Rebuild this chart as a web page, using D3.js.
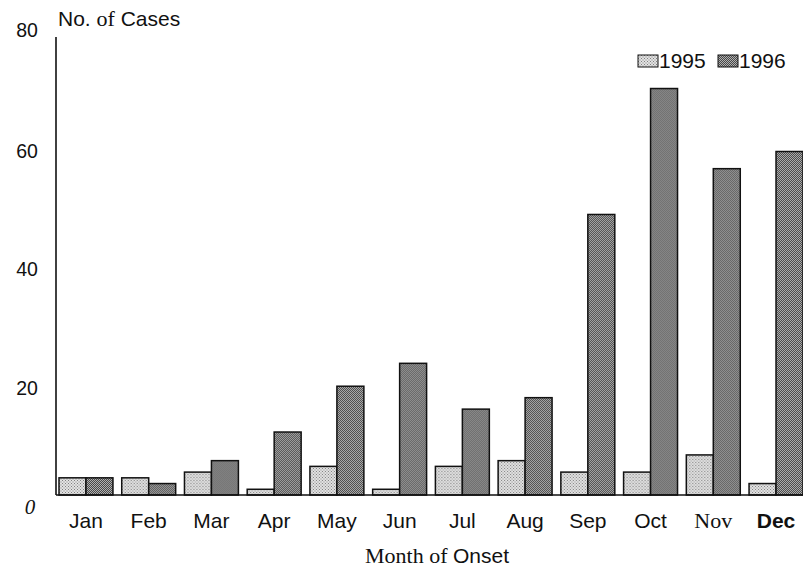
<!DOCTYPE html>
<html>
<head>
<meta charset="utf-8">
<script src="https://cdn.jsdelivr.net/npm/d3@7"></script>
<style>
  body { margin: 0; background: #fff; }
  text { font-family: "Liberation Sans", Arial, sans-serif; fill: #111; }
  .serif { font-family: "Liberation Serif", "Times New Roman", serif; }
</style>
</head>
<body>
<div id="chart"></div>
<script>
const width = 803;
const height = 570;

// data
const months = ["Jan", "Feb", "Mar", "Apr", "May", "Jun", "Jul", "Aug", "Sep", "Oct", "Nov", "Dec"];
const years = ["1995", "1996"];
const cases1995 = [3, 3, 4, 1, 5, 1, 5, 6, 4, 4, 7, 2];
const cases1996 = [3, 2, 6, 11, 19, 23, 15, 17, 49, 71, 57, 60];
const yTicks = [0, 20, 40, 60, 80];

const svg = d3.select("#chart").append("svg")
    .attr("width", width)
    .attr("height", height);

// stipple fills, like the scanned halftone
const defs = svg.append("defs");
function stipple(id, base, dot, size) {
  const p = defs.append("pattern")
      .attr("id", id)
      .attr("width", size).attr("height", size)
      .attr("patternUnits", "userSpaceOnUse");
  p.append("rect").attr("width", size).attr("height", size).attr("fill", base);
  p.append("rect").attr("x", 0).attr("y", 0).attr("width", 1).attr("height", 1).attr("fill", dot);
  p.append("rect").attr("x", size / 2).attr("y", size / 2).attr("width", 1).attr("height", 1).attr("fill", dot);
}
stipple("p1995", "#e2e2e2", "#808080", 3);
stipple("p1996", "#b0b0b0", "#484848", 2);
const fills = { "1995": "url(#p1995)", "1996": "url(#p1996)" };

const x = d3.scaleBand()
    .domain(months)
    .range([59, 803])
    .paddingInner(0.14)
    .paddingOuter(0);

const xYear = d3.scaleBand()
    .domain(years)
    .range([0, x.bandwidth()]);

const y = d3.scaleLinear()
    .domain([0, 80])
    .range([495, 37]);

const rows = months.map((m, i) => ({ month: m, values: [
  { year: "1995", v: cases1995[i] },
  { year: "1996", v: cases1996[i] }
]}));

// bars
const groups = svg.append("g").selectAll("g")
  .data(rows)
  .join("g")
    .attr("transform", d => `translate(${x(d.month)},0)`);

groups.selectAll("rect")
  .data(d => d.values)
  .join("rect")
    .attr("x", d => xYear(d.year))
    .attr("y", d => y(d.v))
    .attr("width", xYear.bandwidth())
    .attr("height", d => y(0) - y(d.v))
    .attr("fill", d => fills[d.year])
    .attr("stroke", "#111")
    .attr("stroke-width", 1.5);

// axes lines
svg.append("line")
    .attr("x1", 56).attr("x2", 56)
    .attr("y1", y(80)).attr("y2", y(0))
    .attr("stroke", "#111").attr("stroke-width", 1.6);
svg.append("line")
    .attr("x1", 56).attr("x2", width)
    .attr("y1", y(0)).attr("y2", y(0))
    .attr("stroke", "#111").attr("stroke-width", 1.6);

// y tick labels
const tickShift = { 0: 12, 20: 8, 40: 3, 60: 0, 80: -7 };
svg.append("g").selectAll("text")
  .data(yTicks)
  .join("text")
    .attr("class", d => d === 0 ? "serif" : null)
    .attr("x", d => d === 0 ? 30 : 27)
    .attr("y", d => y(d) + tickShift[d])
    .attr("dy", "0.35em")
    .attr("text-anchor", "middle")
    .attr("font-size", d => d === 0 ? 21 : 19.5)
    .attr("font-style", d => d === 0 ? "italic" : null)
    .text(d => d);

// month labels
svg.append("g").selectAll("text")
  .data(months)
  .join("text")
    .attr("class", d => d === "Nov" ? "serif" : null)
    .attr("x", d => x(d) + x.bandwidth() / 2)
    .attr("y", 528)
    .attr("text-anchor", "middle")
    .attr("font-size", d => d === "Nov" ? 22 : 21)
    .attr("font-weight", d => d === "Dec" ? "bold" : null)
    .text(d => d);

// axis titles
const yTitle = svg.append("text")
    .attr("x", 58).attr("y", 26)
    .attr("font-size", 21);
yTitle.append("tspan").text("No. ");
yTitle.append("tspan").attr("class", "serif").attr("font-size", 22).text("of");
yTitle.append("tspan").text(" Cases");

const xTitle = svg.append("text")
    .attr("x", 437).attr("y", 563)
    .attr("text-anchor", "middle")
    .attr("font-size", 21);
xTitle.append("tspan").attr("class", "serif").attr("font-size", 22).text("Month of ");
xTitle.append("tspan").text("Onset");

// legend
const legend = svg.append("g").selectAll("g")
  .data(years)
  .join("g")
    .attr("transform", (d, i) => `translate(${638 + i * 80},55)`);
legend.append("rect")
    .attr("width", 20).attr("height", 12)
    .attr("fill", d => fills[d])
    .attr("stroke", "#111").attr("stroke-width", 1);
legend.append("text")
    .attr("x", 21).attr("y", 13)
    .attr("font-size", 21)
    .text(d => d);
</script>
</body>
</html>
